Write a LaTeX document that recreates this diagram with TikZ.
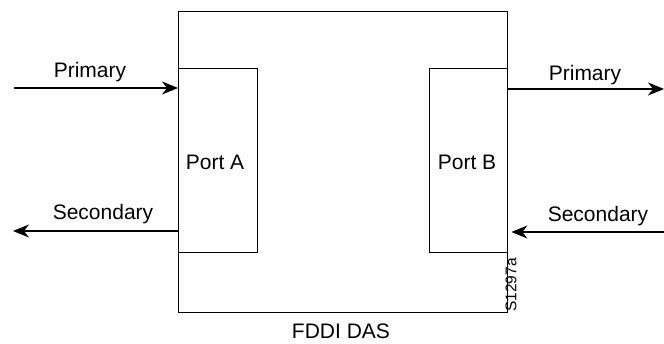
\documentclass[tikz,border=0pt]{standalone}
\usepackage{fontspec}
\setmainfont{Liberation Sans}
\usetikzlibrary{arrows.meta}
\begin{document}
\begin{tikzpicture}[x=1pt,y=-1pt,
  every node/.style={font=\fontsize{21}{25}\selectfont, inner sep=0pt},
  ln/.style={line width=1.4pt},
  arr/.style={ln,-{Stealth[length=16pt,width=13pt,inset=5pt]}},
  lbl/.style={anchor=center}]
\useasboundingbox (0,0) rectangle (664,344);
\node[draw, ln, minimum width=329pt, minimum height=301pt, anchor=north west] (das) at (178,11) {};
\node[draw, ln, minimum width=79pt, minimum height=184pt, anchor=north west] (pa) at (178,68) {};
\node[draw, ln, minimum width=78pt, minimum height=184pt, anchor=north west] (pb) at (429,68) {};
\node (pat) at (215,162) {Port A};
\node (pbt) at (467,162) {Port B};
\node (das lbl) at (341,331) {FDDI DAS};
\node[rotate=90] (code) at (511,285) {\fontsize{15.5}{18}\selectfont S1297a};
\coordinate (inp) at (14,88);
\coordinate (ins) at (13,231);
\coordinate (outp) at (664,89);
\coordinate (outs) at (664,232);
\draw[arr] (inp) -- (inp -| das.west);
\draw[arr] (ins -| das.west) -- (ins);
\draw[arr] (outp -| das.east) -- (outp);
\draw[arr] (outs) -- ([xshift=3pt]outs -| das.east);
\node (l1) at (90,72) {Primary};
\node (l2) at (103,214) {Secondary};
\node (l3) at (585,75) {Primary};
\node (l4) at (598,216) {Secondary};
\end{tikzpicture}
\end{document}
